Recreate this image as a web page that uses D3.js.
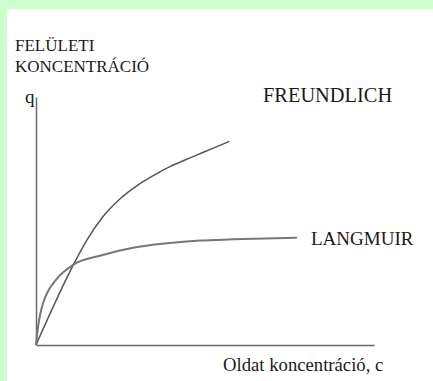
<!DOCTYPE html>
<html>
<head>
<meta charset="utf-8">
<script src="https://cdn.jsdelivr.net/npm/d3@7"></script>
<style>
  html, body { margin: 0; padding: 0; background: #ccffcc; }
  #chart { position: absolute; left: 7px; top: 9px; width: 426px; height: 372px; background: #fff; }
</style>
</head>
<body>
<div id="chart"></div>
<script>
// curve points (arbitrary units, 0-100 on both axes)
var freundlichC = [0, 11.2, 15, 19.9, 24.9, 29.8, 34.7, 39.6, 44.6, 49.5, 57.2];
var freundlichQ = [0, 32.7, 42.2, 51.9, 59, 64.2, 68.3, 71.9, 74.9, 77.7, 82.1];

var langmuirC = [0, 0.6, 1.2, 2.1, 3.6, 5.9, 11.2, 18.9, 28.7, 38.8, 48.5, 58.3, 77.2];
var langmuirQ = [0, 7.3, 12.1, 16.9, 21.8, 26.3, 32.5, 36, 39.2, 41, 42.1, 42.6, 43.3];

var yTitle = ["FELÜLETI", "KONCENTRÁCIÓ"];
var yLabel = "q";
var xLabel = "Oldat koncentráció, c";
var seriesNames = ["FREUNDLICH", "LANGMUIR"];

var serif = "'Liberation Serif', Tinos, 'Times New Roman', Times, 'Nimbus Roman', 'DejaVu Serif', serif";

// page is offset by the green border
var offX = 7, offY = 9;
var width = 426, height = 372;

var svg = d3.select("#chart")
  .append("svg")
    .attr("width", width)
    .attr("height", height)
    .attr("font-family", serif)
  .append("g")
    .attr("transform", "translate(" + (-offX) + "," + (-offY) + ")");

var x = d3.scaleLinear().domain([0, 100]).range([36, 374]);
var y = d3.scaleLinear().domain([0, 100]).range([345, 97]);

// axes, no ticks
svg.append("g")
  .attr("transform", "translate(0," + y(0) + ")")
  .call(d3.axisBottom(x).ticks(0).tickSizeOuter(0))
  .call(g => g.select(".domain").attr("stroke", "#6a6a6a").attr("stroke-width", 1.5));

svg.append("g")
  .attr("transform", "translate(" + x(0) + ",0)")
  .call(d3.axisLeft(y).ticks(0).tickSizeOuter(0))
  .call(g => g.select(".domain").attr("stroke", "#6a6a6a").attr("stroke-width", 1.5));

var line = d3.line()
  .x(d => x(d[0]))
  .y(d => y(d[1]))
  .curve(d3.curveMonotoneX);

svg.append("path")
  .datum(d3.zip(freundlichC, freundlichQ))
  .attr("fill", "none")
  .attr("stroke", "#555")
  .attr("stroke-width", 1.5)
  .attr("d", line);

svg.append("path")
  .datum(d3.zip(langmuirC, langmuirQ))
  .attr("fill", "none")
  .attr("stroke", "#777")
  .attr("stroke-width", 2)
  .attr("d", line);

// labels
function label(txt, px, py, size) {
  return svg.append("text")
    .attr("x", px)
    .attr("y", py)
    .style("font-family", serif)
    .style("font-size", size + "px")
    .style("fill", "#1a1a1a")
    .text(txt);
}

yTitle.forEach((t, i) => label(t, 15, 51 + i * 21, 17));
label(yLabel, 25, 103, 19);
label(seriesNames[0], 263, 102, 20.4);
label(seriesNames[1], 311, 245, 19);
label(xLabel, 223, 371, 18.7);
</script>
</body>
</html>
